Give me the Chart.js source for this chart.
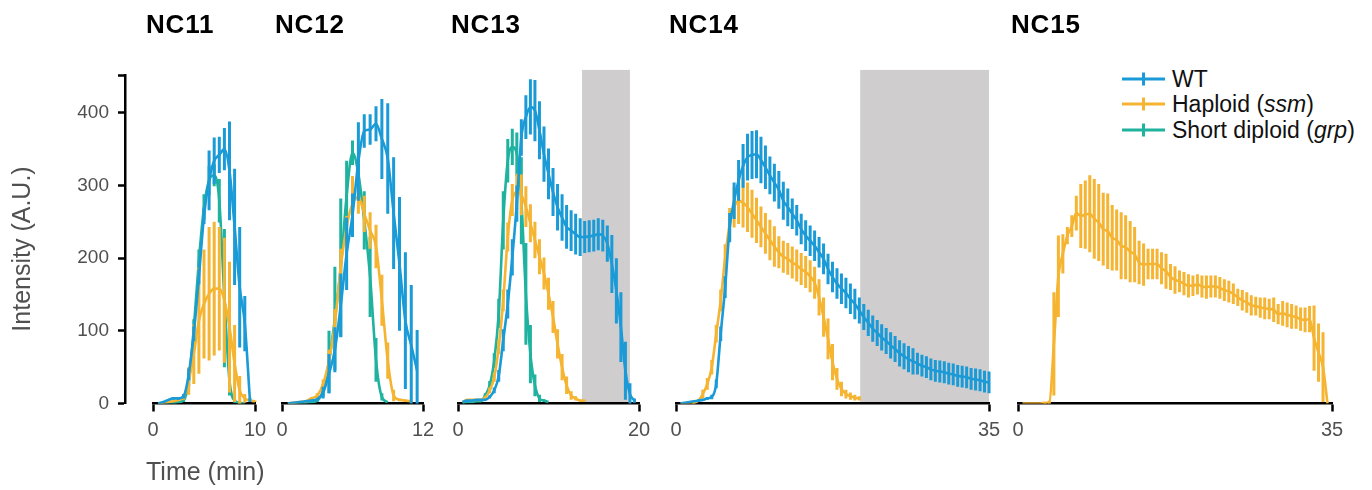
<!DOCTYPE html>
<html>
<head>
<meta charset="utf-8">
<script src="https://cdn.jsdelivr.net/npm/chart.js@4.4.1/dist/chart.umd.min.js"></script>
<style>
  html, body { margin: 0; padding: 0; background: #fff; }
  #wrap { position: relative; width: 1372px; height: 490px; overflow: hidden; font-family: "Liberation Sans", Arial, sans-serif; }
  #wrap canvas { position: absolute; top: 0; }
  .row { position: absolute; left: 1122px; height: 26px; display: flex; align-items: center; white-space: nowrap; font-size: 23px; color: #111; }
  .row svg { margin-right: 7px; }
</style>
</head>
<body>
<div id="wrap">
  <canvas id="yaxis" width="127" height="490" style="left:0"></canvas>
  <div class="row" style="top:66px"><svg width="43" height="16"><line x1="0" y1="8" x2="43" y2="8" stroke="#1a9ad6" stroke-width="3"/><line x1="21.5" y1="1.5" x2="21.5" y2="14.5" stroke="#1a9ad6" stroke-width="3"/></svg>WT</div>
  <div class="row" style="top:91px"><svg width="43" height="16"><line x1="0" y1="8" x2="43" y2="8" stroke="#f5b431" stroke-width="3"/><line x1="21.5" y1="1.5" x2="21.5" y2="14.5" stroke="#f5b431" stroke-width="3"/></svg>Haploid (<i>ssm</i>)</div>
  <div class="row" style="top:117px"><svg width="43" height="16"><line x1="0" y1="8" x2="43" y2="8" stroke="#1fb29f" stroke-width="3"/><line x1="21.5" y1="1.5" x2="21.5" y2="14.5" stroke="#1fb29f" stroke-width="3"/></svg>Short diploid (<i>grp</i>)</div>
</div>
<script>
// time step of the recordings (min); every series starts at 0.5 min
const STEP = 0.5;
const START = 0.5;
const Y_MAX = 452;
const yTicks = [0, 100, 200, 300, 400, Y_MAX];

const WT_COLOR = '#1a9ad6';
const HAP_COLOR = '#f5b431';
const SHORT_COLOR = '#1fb29f';

// ---- NC11 ----
const nc11WtMean = [0, 2, 5, 7, 7, 10, 40, 96, 174, 258, 307, 334, 342, 350, 320, 243, 160, 110, 5];
const nc11WtErr = [0, 1, 1, 2, 2, 3, 8, 10, 10, 11, 41, 32, 25, 29, 68, 80, 83, 38, 3];
const nc11HapMean = [0, 1, 2, 3, 5, 9, 31, 68, 114, 137, 151, 158, 158, 142, 105, 55, 18, 7, 4, 3];
const nc11HapErr = [0, 0, 1, 1, 2, 4, 19, 41, 73, 75, 92, 92, 85, 86, 90, 53, 20, 6, 2, 1];
const nc11ShortMean = [0, 0, 1, 1, 2, 4, 31, 104, 197, 270, 307, 314, 279, 145, 31, 4, 1, 0];
const nc11ShortErr = [0, 0, 0, 0, 1, 2, 8, 12, 15, 18, 20, 15, 30, 95, 20, 3, 0, 0];

// ---- NC12 ----
const nc12WtMean = [0, 1, 2, 3, 4, 6, 15, 41, 74, 135, 206, 259, 333, 375, 377, 385, 364, 337, 262, 192, 114, 80, 45];
const nc12WtErr = [0, 0, 1, 1, 1, 2, 8, 27, 31, 44, 50, 30, 54, 23, 21, 24, 55, 76, 77, 92, 94, 83, 56];
const nc12HapMean = [0, 1, 2, 3, 7, 11, 27, 59, 110, 188, 243, 275, 284, 261, 238, 216, 142, 59, 11, 5, 4, 3];
const nc12HapErr = [0, 0, 0, 1, 2, 3, 6, 15, 20, 25, 15, 38, 23, 25, 25, 30, 35, 25, 8, 2, 1, 1];
const nc12ShortMean = [0, 0, 0, 1, 2, 4, 18, 57, 117, 187, 286, 345, 316, 252, 174, 60, 9, 2];
const nc12ShortErr = [0, 0, 0, 0, 1, 2, 8, 43, 71, 95, 48, 17, 25, 40, 55, 30, 5, 0];

// ---- NC13 ----
const nc13WtMean = [2, 4, 4, 5, 5, 5, 9, 18, 38, 87, 137, 201, 275, 366, 394, 408, 403, 376, 343, 316,
  291, 270, 256, 243, 238, 233, 229, 229, 230, 231, 233, 231, 220, 192, 155, 105, 45, 13, 4];
const nc13WtErr = [0, 0, 0, 1, 1, 1, 2, 4, 8, 15, 20, 25, 25, 25, 30, 38, 42, 40, 38, 35,
  33, 32, 32, 30, 28, 28, 26, 22, 22, 22, 22, 22, 25, 40, 45, 48, 40, 15, 3];
const nc13HapMean = [2, 5, 5, 5, 5, 8, 18, 36, 78, 142, 229, 280, 291, 287, 271, 248, 225, 202, 179, 151,
  119, 82, 50, 25, 11, 7, 4, 4];
const nc13HapErr = [0, 1, 1, 1, 1, 2, 4, 6, 10, 15, 20, 22, 25, 28, 28, 26, 25, 24, 22, 22,
  22, 20, 18, 12, 6, 3, 1, 1];
const nc13ShortMean = [1, 2, 2, 3, 3, 11, 25, 59, 124, 252, 334, 353, 343, 279, 151, 68, 25, 7, 4, 2];
const nc13ShortErr = [0, 0, 0, 1, 1, 3, 6, 10, 20, 40, 30, 25, 30, 60, 70, 40, 15, 5, 2, 0];

// ---- NC14 ----
const nc14WtMean = [0, 1, 2, 3, 4, 5, 7, 9, 27, 96, 160, 242, 279, 307, 327, 339, 342, 343, 335, 325,
  314, 304, 294, 279, 270, 261, 252, 240, 231, 224, 217, 208, 199, 185, 174, 165, 158, 152, 144, 137,
  128, 119, 111, 103, 97, 91, 86, 80, 75, 69, 65, 61, 58, 55, 52, 50, 47, 45, 44, 43,
  41, 40, 38, 37, 36, 34, 33, 32, 30, 29];
const nc14WtErr = [0, 0, 1, 1, 1, 1, 2, 3, 6, 10, 15, 20, 25, 28, 30, 32, 33, 33, 32, 30,
  26, 26, 26, 26, 26, 21, 21, 21, 21, 21, 21, 21, 21, 21, 21, 21, 21, 21, 21, 21,
  18, 18, 18, 18, 18, 18, 18, 18, 18, 18, 18, 18, 18, 15, 15, 15, 15, 15, 15, 15,
  15, 15, 15, 15, 15, 15, 15, 15, 15, 15];
const nc14HapMean = [0, 0, 1, 1, 4, 13, 27, 50, 96, 142, 201, 247, 270, 279, 276, 270, 261, 252, 243, 234,
  225, 216, 208, 202, 199, 194, 190, 185, 181, 175, 166, 146, 119, 89, 57, 34, 20, 13, 10, 8, 7];
const nc14HapErr = [0, 0, 0, 1, 2, 6, 8, 10, 12, 15, 18, 22, 28, 32, 34, 34, 33, 31, 28, 28,
  28, 28, 22, 22, 22, 22, 22, 22, 22, 22, 22, 25, 27, 28, 25, 15, 10, 6, 5, 4, 3];

// ---- NC15 (haploid only) ----
const nc15HapMean = [0, 0, 0, 0, 0, 1, 2, 82, 175, 206, 231, 244, 262, 258, 260, 261, 254,
  249, 240, 237, 228, 225, 217, 215, 209, 205, 194, 191, 192, 192, 192, 186, 182, 174, 170, 168, 165,
  162, 162, 164, 161, 160, 161, 161, 159, 156, 154, 151, 146, 142, 139, 135, 134, 132, 131, 130, 129,
  123, 124, 122, 120, 119, 116, 115, 116, 90, 70, 50, 0];
const nc15HapErr = [0, 0, 0, 0, 0, 1, 2, 71, 56, 27, 12, 15, 24, 44, 47, 53, 55,
  53, 50, 52, 45, 42, 46, 44, 42, 38, 30, 29, 21, 21, 21, 22, 24, 18, 19, 15, 16,
  16, 14, 14, 15, 16, 15, 15, 15, 15, 15, 14, 12, 14, 14, 14, 13, 14, 15, 14, 17,
  14, 17, 17, 17, 16, 16, 17, 18, 45, 40, 48, 0];

const FONT = '"Liberation Sans", Arial, sans-serif';
const GRAY = '#505050';
const PAD = 20;

function points(mean) {
  return mean.map((v, i) => ({ x: START + i * STEP, y: v }));
}

function line(label, color, mean, err) {
  return {
    label, data: points(mean), err,
    borderColor: color, backgroundColor: color,
    borderWidth: 2.6, pointRadius: 0, fill: false,
    cubicInterpolationMode: 'monotone'
  };
}

// vertical error bars, drawn right after each line
const errorBars = {
  id: 'errorBars',
  afterDatasetDraw(chart, args) {
    const ds = chart.data.datasets[args.index];
    if (!ds.err) return;
    const xs = chart.scales.x, ys = chart.scales.y, ctx = chart.ctx;
    ctx.save();
    ctx.strokeStyle = ds.borderColor;
    ctx.lineWidth = 3;
    ctx.beginPath();
    ds.data.forEach((pt, i) => {
      const e = ds.err[i];
      if (!e) return;
      const x = xs.getPixelForValue(pt.x);
      ctx.moveTo(x, ys.getPixelForValue(Math.max(0, pt.y - e)));
      ctx.lineTo(x, ys.getPixelForValue(pt.y + e));
    });
    ctx.stroke();
    ctx.restore();
  }
};

// grey band marking the interval of interest
const shade = {
  id: 'shade',
  beforeDraw(chart, args, opts) {
    if (opts.from == null) return;
    const xs = chart.scales.x, ys = chart.scales.y, ctx = chart.ctx;
    const x0 = xs.getPixelForValue(opts.from), x1 = xs.getPixelForValue(opts.to);
    const top = ys.getPixelForValue(459), bottom = ys.getPixelForValue(0);
    ctx.save();
    ctx.fillStyle = '#cfcdce';
    ctx.fillRect(x0, top, x1 - x0, bottom - top);
    ctx.restore();
  }
};

// panel name above the plot, axis label under the first panel
const panelText = {
  id: 'panelText',
  afterDraw(chart, args, opts) {
    const ctx = chart.ctx, left = chart.chartArea.left - 7;
    ctx.save();
    if (opts.title) {
      ctx.font = 'bold 26px ' + FONT;
      ctx.fillStyle = '#000';
      ctx.textBaseline = 'middle';
      ctx.letterSpacing = '0.8px';
      ctx.fillText(opts.title, left, 26);
      ctx.letterSpacing = '0px';
    }
    if (opts.xlabel) {
      ctx.font = '25px ' + FONT;
      ctx.fillStyle = GRAY;
      ctx.textBaseline = 'alphabetic';
      ctx.fillText(opts.xlabel, left, 480);
    }
    ctx.restore();
  }
};

// rotated y title, placed a little below the middle of the axis as in the figure
const yTitle = {
  id: 'yTitle',
  afterDraw(chart, args, opts) {
    const ctx = chart.ctx;
    ctx.save();
    ctx.translate(23, 249);
    ctx.rotate(-Math.PI / 2);
    ctx.font = '25px ' + FONT;
    ctx.fillStyle = GRAY;
    ctx.textAlign = 'center';
    ctx.textBaseline = 'middle';
    ctx.fillText(opts.text, 0, 0);
    ctx.restore();
  }
};

const panels = [
  { title: 'NC11', x0: 153, x1: 255, max: 10, xlabel: 'Time (min)',
    datasets: [line('WT', WT_COLOR, nc11WtMean, nc11WtErr), line('Haploid (ssm)', HAP_COLOR, nc11HapMean, nc11HapErr), line('Short diploid (grp)', SHORT_COLOR, nc11ShortMean, nc11ShortErr)] },
  { title: 'NC12', x0: 282, x1: 423, max: 12,
    datasets: [line('WT', WT_COLOR, nc12WtMean, nc12WtErr), line('Haploid (ssm)', HAP_COLOR, nc12HapMean, nc12HapErr), line('Short diploid (grp)', SHORT_COLOR, nc12ShortMean, nc12ShortErr)] },
  { title: 'NC13', x0: 458, x1: 639, max: 20, shade: [13.7, 19.0],
    datasets: [line('WT', WT_COLOR, nc13WtMean, nc13WtErr), line('Haploid (ssm)', HAP_COLOR, nc13HapMean, nc13HapErr), line('Short diploid (grp)', SHORT_COLOR, nc13ShortMean, nc13ShortErr)] },
  { title: 'NC14', x0: 676, x1: 989, max: 35, shade: [20.6, 35],
    datasets: [line('WT', WT_COLOR, nc14WtMean, nc14WtErr), line('Haploid (ssm)', HAP_COLOR, nc14HapMean, nc14HapErr)] },
  { title: 'NC15', x0: 1018, x1: 1332, max: 35,
    datasets: [line('Haploid (ssm)', HAP_COLOR, nc15HapMean, nc15HapErr)] }
];

const wrap = document.getElementById('wrap');

// shared y axis, drawn on its own narrow canvas
new Chart(document.getElementById('yaxis'), {
  type: 'line',
  data: { datasets: [] },
  options: {
    responsive: false,
    animation: false,
    layout: { padding: { top: 75, bottom: 86.5, left: 0, right: 0 } },
    plugins: { legend: { display: false }, tooltip: { enabled: false }, yTitle: { text: 'Intensity (A.U.)' } },
    scales: {
      x: { type: 'linear', display: false },
      y: {
        type: 'linear', min: 0, max: Y_MAX,
        afterFit: s => { s.width = 125; },
        afterBuildTicks: s => { s.ticks = yTicks.map(v => ({ value: v })); },
        ticks: { autoSkip: false, padding: 9, color: GRAY, font: { size: 19, family: FONT },
          callback: v => (v === Y_MAX ? '' : v) },
        grid: { drawOnChartArea: false, tickLength: 7, tickWidth: 2.5, tickColor: '#000', color: '#000' },
        border: { display: true, color: '#000', width: 2.5 }
      }
    }
  },
  plugins: [yTitle]
});

panels.forEach(p => {
  const cv = document.createElement('canvas');
  cv.width = (p.x1 - p.x0) + 2 * PAD;
  cv.height = 490;
  cv.style.left = (p.x0 - PAD) + 'px';
  wrap.appendChild(cv);

  new Chart(cv, {
    type: 'line',
    data: { datasets: p.datasets },
    options: {
      responsive: false,
      animation: false,
      layout: { padding: { top: 75, bottom: 0, left: PAD, right: PAD } },
      plugins: {
        legend: { display: false },
        tooltip: { enabled: false },
        shade: p.shade ? { from: p.shade[0], to: p.shade[1] } : {},
        panelText: { title: p.title, xlabel: p.xlabel }
      },
      scales: {
        x: {
          type: 'linear', min: 0, max: p.max,
          afterFit: s => { s.height = 86.5; },
          afterBuildTicks: s => { s.ticks = [{ value: 0 }, { value: p.max }]; },
          ticks: { autoSkip: false, maxRotation: 0, padding: 7, color: GRAY, font: { size: 20, family: FONT } },
          grid: { drawOnChartArea: false, tickLength: 8, tickWidth: 2.5, tickColor: '#000', color: '#000' },
          border: { display: true, color: '#000', width: 2.5 }
        },
        y: { display: false, min: 0, max: Y_MAX }
      }
    },
    plugins: [shade, errorBars, panelText]
  });
});
</script>
</body>
</html>
